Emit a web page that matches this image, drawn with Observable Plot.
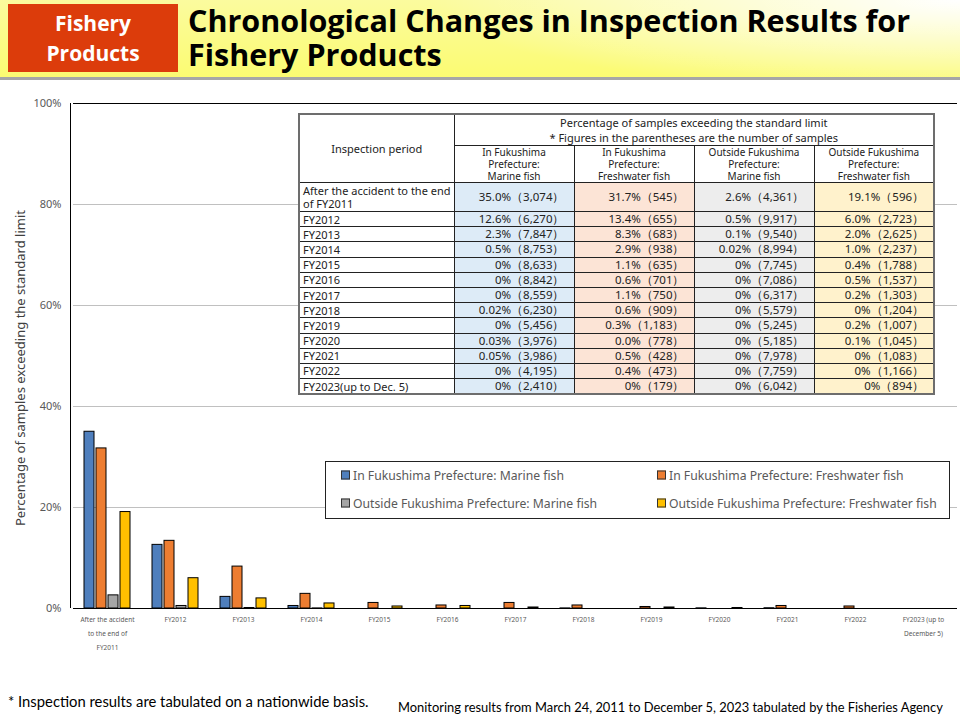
<!DOCTYPE html>
<html><head><meta charset="utf-8">
<script src="https://cdn.jsdelivr.net/npm/d3@7"></script>
<script src="https://cdn.jsdelivr.net/npm/@observablehq/plot@0.6"></script>
<style>
body{margin:0;width:960px;height:720px;position:relative;overflow:hidden;background:#fff;font-family:"Noto Sans",sans-serif;}
#header{position:absolute;left:0;top:0;width:960px;height:77px;border-bottom:3px solid #a6a6a6;
 background:radial-gradient(ellipse 55% 120% at 100% 0%, rgba(255,255,255,1) 0%, rgba(255,255,255,0) 100%), linear-gradient(#fbfb9e,#fbfb72);}
#badge{position:absolute;left:8px;top:4px;width:170px;height:68px;background:#dc3c0b;color:#fff;font-family:"Open Sans",sans-serif;font-weight:700;font-size:21px;line-height:30px;text-align:center;display:flex;align-items:center;justify-content:center;}
#title{position:absolute;left:188px;top:3px;font-family:"Open Sans",sans-serif;font-weight:700;font-size:30.5px;line-height:34px;color:#000;white-space:nowrap;}
#chart{position:absolute;left:0;top:90px;}
#leftline{position:absolute;left:70px;top:103px;width:0;height:505px;border-left:1px solid #000;}
#ytitle{position:absolute;left:20px;top:368px;transform:translate(-50%,-50%) rotate(-90deg);white-space:nowrap;font-size:13px;color:#404040;}
#tbl{position:absolute;left:298px;top:113px;width:635px;border-collapse:collapse;table-layout:fixed;font-size:11px;color:#222;background:#fff;border:2px solid #6d6d6d;}
#tbl td{border:1px solid #222;padding:0;line-height:12px;overflow:hidden;white-space:nowrap;}
#tbl td.hd{text-align:center;vertical-align:middle;}
#tbl td.top{line-height:15px;}
#tbl td.ch{line-height:12px;font-size:10px;}
#tbl td.lab{text-align:left;padding-left:3px;font-size:11px;line-height:13px;white-space:pre-line;}
#tbl td.val{text-align:right;padding-right:9px;font-size:11.5px;line-height:14px;}
#legend{position:absolute;left:325px;top:461px;width:623px;height:56px;border:1px solid #222;background:#fff;font-size:12.2px;color:#595959;}
.li{position:absolute;display:flex;align-items:center;transform:translateY(-50%);white-space:nowrap;}
.sw{width:7px;height:7px;border:1px solid #333;margin-right:3px;}
#note1{position:absolute;left:8px;top:692px;font-family:Lato,sans-serif;font-size:14.8px;color:#000;white-space:nowrap;}
#note2{position:absolute;left:398px;top:699px;font-family:Lato,sans-serif;font-size:12.9px;color:#000;white-space:nowrap;}
</style></head><body>
<div id="header"><div id="badge">Fishery<br>Products</div><div id="title">Chronological Changes in Inspection Results for<br>Fishery Products</div></div>
<div id="chart"></div>
<div id="leftline"></div>
<div id="ytitle">Percentage of samples exceeding the standard limit</div>
<table id="tbl"></table>
<div id="legend"></div>
<div id="note1">* Inspection results are tabulated on a nationwide basis.</div>
<div id="note2">Monitoring results from March 24, 2011 to December 5, 2023 tabulated by the Fisheries Agency</div>
<script>
const categories = ["After the accident to the end of FY2011","FY2012","FY2013","FY2014","FY2015","FY2016","FY2017","FY2018","FY2019","FY2020","FY2021","FY2022","FY2023 (up to December 5)"];
const tickLabels = ["After the accident\nto the end of\nFY2011","FY2012","FY2013","FY2014","FY2015","FY2016","FY2017","FY2018","FY2019","FY2020","FY2021","FY2022","FY2023 (up to\nDecember 5)"];
const tableRowLabels = ["After the accident to the end\nof FY2011","FY2012","FY2013","FY2014","FY2015","FY2016","FY2017","FY2018","FY2019","FY2020","FY2021","FY2022","FY2023(up to Dec. 5)"];
const seriesNames = ["In Fukushima Prefecture: Marine fish","In Fukushima Prefecture: Freshwater fish","Outside Fukushima Prefecture: Marine fish","Outside Fukushima Prefecture: Freshwater fish"];
const tableHeaders = ["In Fukushima\nPrefecture:\nMarine fish","In Fukushima\nPrefecture:\nFreshwater fish","Outside Fukushima\nPrefecture:\nMarine fish","Outside Fukushima\nPrefecture:\nFreshwater fish"];
const tableTitle = ["Percentage of samples exceeding the standard limit","* Figures in the parentheses are the number of samples"];
const yTicks = [0, 20, 40, 60, 80, 100];
const colors = ["#4f7fbd","#ed7d31","#a5a5a5","#ffc000"];
const cellColors = ["#ddebf7","#fce4d6","#ededed","#fff2cc"];
// percentages (as printed)
const fukushimaMarine = ["35.0","12.6","2.3","0.5","0","0","0","0.02","0","0.03","0.05","0","0"];
const fukushimaFresh = ["31.7","13.4","8.3","2.9","1.1","0.6","1.1","0.6","0.3","0.0","0.5","0.4","0"];
const outsideMarine = ["2.6","0.5","0.1","0.02","0","0","0","0","0","0","0","0","0"];
const outsideFresh = ["19.1","6.0","2.0","1.0","0.4","0.5","0.2","0","0.2","0.1","0","0","0"];
// number of samples
const fukushimaMarineN = [3074,6270,7847,8753,8633,8842,8559,6230,5456,3976,3986,4195,2410];
const fukushimaFreshN = [545,655,683,938,635,701,750,909,1183,778,428,473,179];
const outsideMarineN = [4361,9917,9540,8994,7745,7086,6317,5579,5245,5185,7978,7759,6042];
const outsideFreshN = [596,2723,2625,2237,1788,1537,1303,1204,1007,1045,1083,1166,894];

const values = [fukushimaMarine, fukushimaFresh, outsideMarine, outsideFresh];
const counts = [fukushimaMarineN, fukushimaFreshN, outsideMarineN, outsideFreshN];

const data = [];
seriesNames.forEach((s, j) => values[j].forEach((v, i) => data.push({category: categories[i], series: s, value: +v})));

const chart = Plot.plot({
  width: 960, height: 568,
  marginLeft: 70, marginRight: 0, marginTop: 13, marginBottom: 50,
  style: {color: "#595959", fontFamily: "Noto Sans, sans-serif", fontSize: "11px", background: "transparent", overflow: "visible"},
  fx: {domain: categories, paddingInner: 0, paddingOuter: 0, label: null},
  x: {domain: seriesNames, paddingInner: 0.19, paddingOuter: 0.88, axis: null},
  y: {domain: [0, 100], ticks: yTicks, tickFormat: d => d + "%", tickSize: 0, tickPadding: 12, label: null},
  color: {domain: seriesNames, range: colors},
  marks: [
    Plot.ruleY(yTicks.slice(1, -1), {stroke: "#c0c0c0"}),
    Plot.barY(data, {filter: d => d.value > 0, fx: "category", x: "series", y: "value", fill: "series", stroke: "#000", strokeWidth: 1}),
    Plot.ruleY([0], {stroke: "#000"}),
    Plot.ruleY([100], {stroke: "#000"}),
    Plot.axisFx({anchor: "bottom", tickSize: 0, tickPadding: 4, fontSize: 6.5, lineHeight: 2.15, tickFormat: d => tickLabels[categories.indexOf(d)], label: null})
  ]
});
document.getElementById("chart").appendChild(chart);

// table
const fmt = d3.format(",");
let html = `<colgroup><col style="width:155px">` + seriesNames.map(() => `<col style="width:120px">`).join("") + `</colgroup>`;
html += `<tr style="height:30px"><td rowspan="2" class="hd">Inspection period</td><td colspan="4" class="hd top">${tableTitle[0]}<br>${tableTitle[1]}</td></tr>`;
html += `<tr style="height:37px">` + tableHeaders.map(h => `<td class="hd ch">${h.replace(/\n/g, "<br>")}</td>`).join("") + `</tr>`;
tableRowLabels.forEach((lab, i) => {
  html += `<tr style="height:${i === 0 ? 29 : 15.2}px"><td class="lab">${lab}</td>` +
    values.map((vals, j) => `<td class="val" style="background:${cellColors[j]}">${vals[i]}%（${fmt(counts[j][i])}）</td>`).join("") + `</tr>`;
});
document.getElementById("tbl").innerHTML = html;

// legend
const legend = document.getElementById("legend");
const pos = [[15, 13], [331, 13], [15, 41], [331, 41]];
seriesNames.forEach((s, j) => {
  const el = document.createElement("div");
  el.className = "li";
  el.style.left = pos[j][0] + "px";
  el.style.top = pos[j][1] + "px";
  el.innerHTML = `<span class="sw" style="background:${colors[j]}"></span><span>${s}</span>`;
  legend.appendChild(el);
});
</script>
</body></html>
